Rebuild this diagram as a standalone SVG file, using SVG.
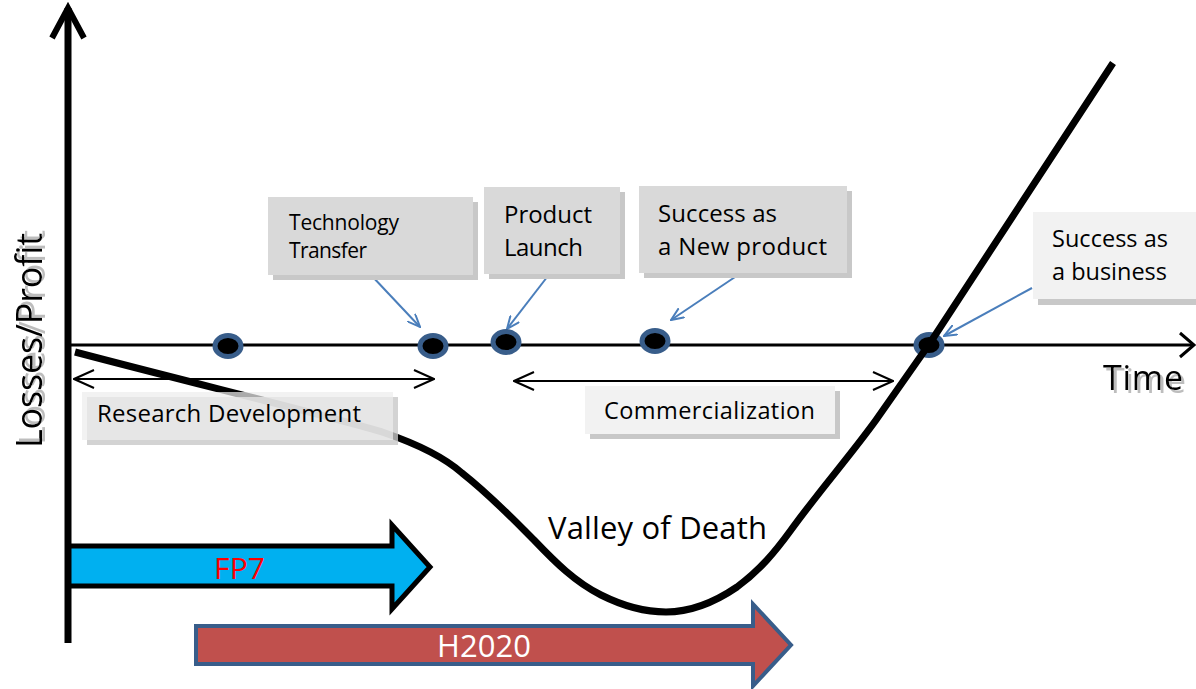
<svg xmlns="http://www.w3.org/2000/svg" width="1196" height="689" viewBox="0 0 1196 689">
<defs>
<style>
text{font-family:"Open Sans","Liberation Sans",sans-serif;fill:#000}
.box{fill:#d9d9d9}
.lbox{fill:#f2f2f2}
.shadow{fill:#c8c8c8}
.dot{fill:#000;stroke:#385d8a;stroke-width:5}
.call{stroke:#4a7ebb;stroke-width:2;fill:none;marker-end:url(#bh)}
.span{stroke:#000;stroke-width:2;fill:none;marker-start:url(#kh);marker-end:url(#kh)}
.axis{stroke:#000;fill:none;stroke-linecap:butt}
.shd{filter:url(#ts)}
</style>
<filter id="ts" x="-10%" y="-20%" width="130%" height="150%">
<feOffset in="SourceAlpha" dx="3" dy="3" result="o"/>
<feFlood flood-color="#bdbdbd"/>
<feComposite in2="o" operator="in" result="s"/>
<feMerge><feMergeNode in="s"/><feMergeNode in="SourceGraphic"/></feMerge>
</filter>
<marker id="bh" viewBox="0 0 14 12" refX="13" refY="6" markerWidth="14" markerHeight="12" markerUnits="userSpaceOnUse" orient="auto"><path d="M0,0.5 L13,6 L0,11.5" fill="none" stroke="#4a7ebb" stroke-width="2"/></marker>
<marker id="kh" viewBox="0 0 22 20" refX="21" refY="10" markerWidth="22" markerHeight="20" markerUnits="userSpaceOnUse" orient="auto-start-reverse"><path d="M1,1 L21,10 L1,19" fill="none" stroke="#000" stroke-width="2"/></marker>
</defs>
<rect width="1196" height="689" fill="#fff"/>

<g id="fp7">
<polygon points="68,546 392,546 392,525 430,567 392,609 392,586 68,586" fill="#00b0f0" stroke="#000" stroke-width="5"/>
<text x="214" y="579" font-size="30" style="fill:#ff0000" textLength="51">FP7</text>
</g>
<g id="h2020">
<polygon points="196,626 753,626 753,604 791,645 753,686 753,664 196,664" fill="#c0504d" stroke="#385d8a" stroke-width="4"/>
<text x="437" y="657" font-size="31" style="fill:#ffffff" textLength="94">H2020</text>
</g>

<g id="axes">
<line class="axis" x1="68" y1="8" x2="68" y2="643" stroke-width="7"/>
<polyline class="axis" points="52,38 68,8 84,38" stroke-width="6" stroke-linejoin="miter"/>
<line class="axis" x1="68" y1="345" x2="1193" y2="345" stroke-width="3"/>
<polyline class="axis" points="1180,333 1194,345 1180,357" stroke-width="3"/>
</g>

<g id="connectors">
<line class="span" x1="74" y1="379" x2="434" y2="379"/>
<line class="span" x1="514" y1="381" x2="893" y2="381"/>
<line class="call" x1="371" y1="275" x2="420" y2="327"/>
<line class="call" x1="551" y1="272" x2="507" y2="329"/>
<line class="call" x1="741" y1="273" x2="671" y2="320"/>
<line class="call" x1="1032" y1="288" x2="944" y2="336"/>
</g>

<g id="dots">
<ellipse class="dot" cx="228" cy="346" rx="13" ry="10.5"/>
<ellipse class="dot" cx="433" cy="346" rx="13" ry="10.5"/>
<ellipse class="dot" cx="506" cy="342" rx="13" ry="10.5"/>
<ellipse class="dot" cx="655" cy="341" rx="13" ry="10.5"/>
<ellipse class="dot" cx="929" cy="345" rx="13" ry="10.5"/>
</g>

<g id="curve">
<path d="M75,352 C200,385 330,416 385,433 C420,445 445,458 462,473 C490,495 512,518 534,540 C555,562 575,582 601,595 C625,607 645,612 666,612 C690,612 715,602 737,587 C760,570 775,552 791,530 C820,490 850,456 876,420 L930,343 L1113,63" fill="none" stroke="#000" stroke-width="7" stroke-linejoin="round"/>
</g>

<g id="research-development">
<rect x="87" y="397" width="311" height="48" class="shadow" opacity="0.8"/>
<rect x="82" y="392" width="311" height="48" fill="#ededed" opacity="0.72"/>
<text x="97" y="422" font-size="24" textLength="264">Research Development</text>
</g>

<g id="commercialization">
<rect x="590" y="391" width="250" height="48" class="shadow"/>
<rect x="585" y="386" width="250" height="48" class="lbox"/>
<text x="604" y="419" font-size="23.5" textLength="211">Commercialization</text>
</g>

<g id="technology-transfer">
<rect x="273" y="202" width="205" height="78" class="shadow"/>
<rect x="268" y="197" width="205" height="78" class="box"/>
<text x="289" y="230" font-size="21" textLength="110">Technology</text>
<text x="289" y="258" font-size="21" textLength="78">Transfer</text>
</g>

<g id="product-launch">
<rect x="489" y="192" width="136" height="87" class="shadow"/>
<rect x="484" y="187" width="136" height="87" class="box"/>
<text x="504" y="223" font-size="24" textLength="88">Product</text>
<text x="504" y="256" font-size="24" textLength="79">Launch</text>
</g>

<g id="success-new-product">
<rect x="644" y="191" width="208" height="87" class="shadow"/>
<rect x="639" y="186" width="208" height="87" class="box"/>
<text x="658" y="222" font-size="24" textLength="119">Success as</text>
<text x="658" y="255" font-size="24" textLength="169">a New product</text>
</g>

<g id="success-business">
<rect x="1038" y="217" width="160" height="88" class="shadow"/>
<rect x="1033" y="212" width="165" height="87" class="lbox"/>
<text x="1052" y="247" font-size="23.5" textLength="116">Success as</text>
<text x="1052" y="280" font-size="23.5" textLength="115">a business</text>
</g>

<g id="labels">
<text x="548" y="539" font-size="31" textLength="219">Valley of Death</text>
<text class="shd" x="1103" y="390" font-size="34" textLength="80">Time</text>
<text class="shd" transform="translate(42,448) rotate(-90)" font-size="36" textLength="215">Losses/Profit</text>
</g>
</svg>
